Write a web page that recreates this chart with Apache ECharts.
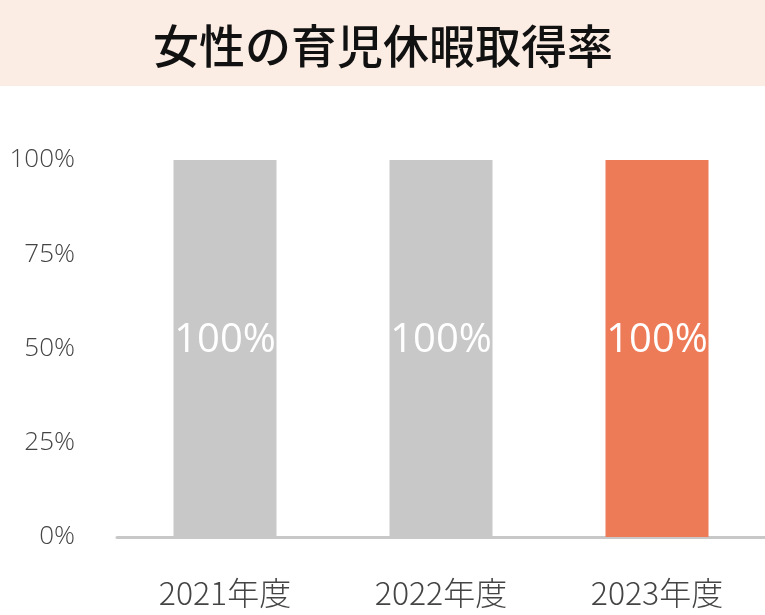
<!DOCTYPE html>
<html><head><meta charset="utf-8">
<script src="https://cdn.jsdelivr.net/npm/echarts@6/dist/echarts.min.js"></script>
<style>html,body{margin:0;padding:0;background:#fff}#c{width:765px;height:615px}</style>
</head><body><div id="c"></div>
<script>
const title = '女性の育児休暇取得率';
const categories = ['2021年度','2022年度','2023年度'];
const values = [100,100,100];
const barColors = ['#C8C8C8','#C8C8C8','#EE7B58'];
const yTicks = [0,25,50,75,100];

const chart = echarts.init(document.getElementById('c'));
chart.setOption({
  animation:false,
  graphic:[
    {type:'rect',shape:{x:0,y:0,width:765,height:86},style:{fill:'#FBEDE4'}},
    {type:'text',x:383,y:46,style:{text:title,fill:'#111',font:'500 46px "Noto Sans CJK JP"',align:'center',verticalAlign:'middle'}}
  ],
  grid:{left:117,right:0,top:160,bottom:78},
  xAxis:{type:'category',data:categories,
    axisLine:{lineStyle:{color:'#C8C8C8',width:3}},axisTick:{show:false},
    axisLabel:{color:'#444',fontSize:32,margin:40,fontFamily:'"Noto Sans CJK JP"',fontWeight:300}},
  yAxis:{type:'value',min:0,max:100,interval:25,
    axisLine:{show:false},axisTick:{show:false},splitLine:{show:false},
    axisLabel:{color:'#444',fontSize:26,margin:42,formatter:v=>v+'%',fontFamily:'"Open Sans"',fontWeight:300}},
  series:[{type:'bar',barWidth:103,
    data:values.map((v,i)=>({value:v,itemStyle:{color:barColors[i]}})),
    label:{show:true,position:'inside',offset:[0,-8],formatter:p=>p.value+'%',color:'#fff',fontSize:40,fontFamily:'"Open Sans"'}}]
});
</script></body></html>
